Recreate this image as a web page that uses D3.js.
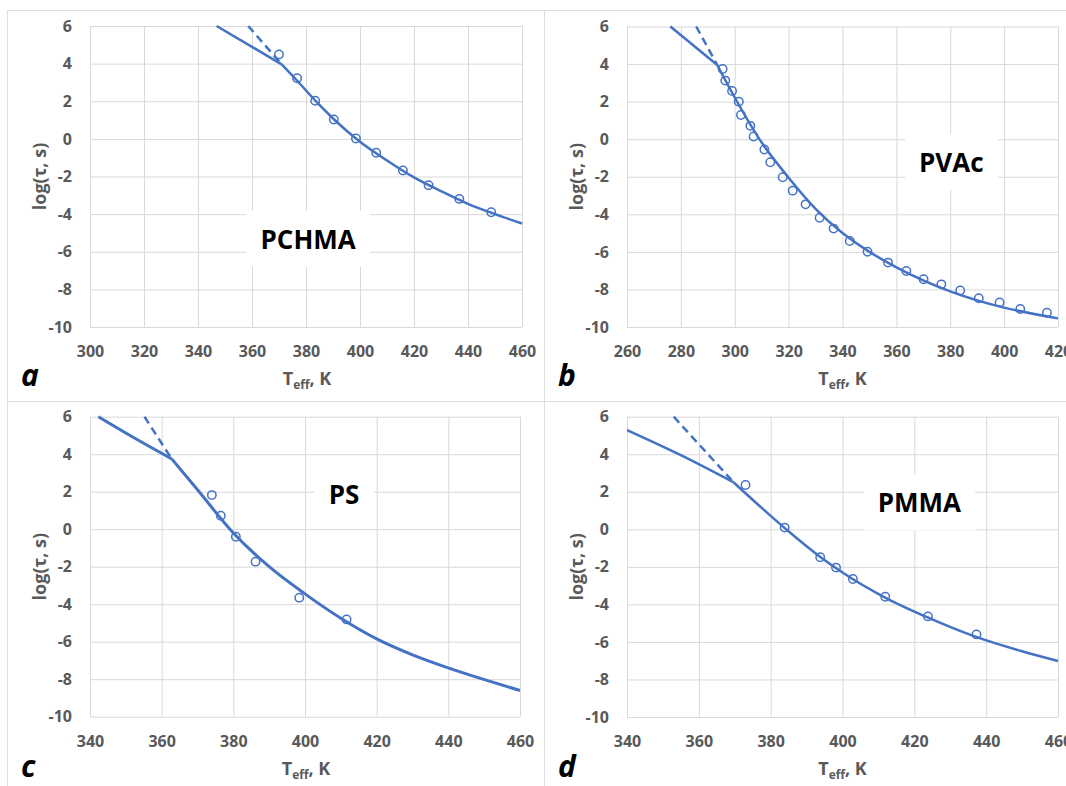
<!doctype html>
<html lang="en">
<head>
<meta charset="utf-8">
<title>log tau vs Teff</title>
<script src="https://cdn.jsdelivr.net/npm/d3@7"></script>
<style>
  body { margin: 0; background: #fff; }
  text { font-family: "Open Sans", "Noto Sans", sans-serif; }
</style>
</head>
<body>
<script>
// ---- data ----
var yTicks = [-10, -8, -6, -4, -2, 0, 2, 4, 6];

// a: PCHMA
var pchmaTicks = [300, 320, 340, 360, 380, 400, 420, 440, 460];
var pchmaT   = [370.0, 376.7, 383.4, 390.3, 398.5, 406.0, 415.9, 425.4, 436.8, 448.6];
var pchmaLog = [4.49, 3.22, 2.03, 1.03, 0.02, -0.74, -1.68, -2.46, -3.19, -3.90];
var pchmaFitT   = [371, 377, 384, 391, 400, 410, 420, 430, 440, 450, 460];
var pchmaFitLog = [3.96, 3.05, 1.95, 0.95, -0.15, -1.15, -2.05, -2.78, -3.45, -4.0, -4.5];
var pchmaGlassT = [346.9, 371],   pchmaGlassLog = [6.0, 3.96];
var pchmaDashT  = [358.6, 371],   pchmaDashLog  = [6.0, 3.96];

// b: PVAc
var pvacTicks = [260, 280, 300, 320, 340, 360, 380, 400, 420];
var pvacT   = [295.5, 296.5, 299.0, 301.5, 302.3, 305.8, 307.0, 311.0, 313.2, 317.8, 321.5, 326.3, 331.5,
               336.7, 342.7, 349.3, 356.9, 363.7, 370.1, 376.7, 383.7, 390.6, 398.3, 406.0, 415.9];
var pvacLog = [3.74, 3.12, 2.57, 2.0, 1.29, 0.71, 0.14, -0.55, -1.23, -2.03, -2.74, -3.47, -4.18,
               -4.76, -5.42, -5.99, -6.57, -7.02, -7.46, -7.73, -8.06, -8.47, -8.69, -9.04, -9.24];
var pvacFitT   = [293.5, 300, 310, 320, 330, 340, 350, 360, 380, 400, 420];
var pvacFitLog = [3.95, 2.22, -0.18, -2.05, -3.71, -5.0, -6.0, -6.82, -8.1, -8.97, -9.54];
var pvacGlassT = [276.1, 293.5],  pvacGlassLog = [6.0, 3.95];
var pvacDashT  = [285.7, 293.5],  pvacDashLog  = [6.0, 3.95];

// c: PS
var psTicks = [340, 360, 380, 400, 420, 440, 460];
var psT   = [374.0, 376.5, 380.7, 386.2, 398.4, 411.6];
var psLog = [1.82, 0.72, -0.40, -1.73, -3.65, -4.81];
var psFitT   = [362.8, 370, 380, 390, 400, 410, 420, 430, 440, 460];
var psFitLog = [3.75, 2.1, -0.2, -2.0, -3.45, -4.75, -5.85, -6.7, -7.4, -8.6];
var psGlassT = [342.3, 350.7, 362.8], psGlassLog = [6.0, 5.05, 3.75];
var psDashT  = [355.2, 362.8],        psDashLog  = [6.0, 3.75];

// d: PMMA
var pmmaTicks = [340, 360, 380, 400, 420, 440, 460];
var pmmaT   = [373.0, 383.9, 393.8, 398.2, 402.9, 411.9, 423.8, 437.3];
var pmmaLog = [2.36, 0.09, -1.49, -2.04, -2.65, -3.59, -4.64, -5.6];
var pmmaFitT   = [369.7, 384, 394, 400, 412, 424, 437, 450, 460];
var pmmaFitLog = [2.5, 0.05, -1.5, -2.3, -3.65, -4.72, -5.72, -6.5, -7.02];
var pmmaGlassT = [340, 355, 369.7], pmmaGlassLog = [5.29, 3.95, 2.5];
var pmmaDashT  = [353.0, 369.7],    pmmaDashLog  = [6.0, 2.5];

var zip = (xs, ys) => xs.map((x, i) => [x, ys[i]]);

// ---- layout ----
var W = 1066, H = 786;
var blue = "#4472c4", grid = "#d9d9d9", grey = "#595959";

var panels = [
  {letter: "a", name: "PCHMA", nameAt: [380.8, -5.83], frame: [7, 10, 537, 391], lw: 2.5,
   plot: {left: 90, top: 26, width: 432, height: 301},
   ticks: pchmaTicks, pts: zip(pchmaT, pchmaLog), fit: zip(pchmaFitT, pchmaFitLog),
   glass: zip(pchmaGlassT, pchmaGlassLog), dash: zip(pchmaDashT, pchmaDashLog)},
  {letter: "b", name: "PVAc", nameAt: [380.4, -1.76], frame: [544, 10, 530, 391], lw: 2.5,
   plot: {left: 627, top: 26.5, width: 431, height: 300.5},
   ticks: pvacTicks, pts: zip(pvacT, pvacLog), fit: zip(pvacFitT, pvacFitLog),
   glass: zip(pvacGlassT, pvacGlassLog), dash: zip(pvacDashT, pvacDashLog)},
  {letter: "c", name: "PS", nameAt: [410.9, 1.33], frame: [7, 401, 537, 390], lw: 3,
   plot: {left: 90, top: 416.7, width: 430, height: 300},
   ticks: psTicks, pts: zip(psT, psLog), fit: zip(psFitT, psFitLog),
   glass: zip(psGlassT, psGlassLog), dash: zip(psDashT, psDashLog)},
  {letter: "d", name: "PMMA", nameAt: [421.4, 0.91], frame: [544, 401, 530, 390], lw: 2.5,
   plot: {left: 627, top: 416.7, width: 431, height: 300.3},
   ticks: pmmaTicks, pts: zip(pmmaT, pmmaLog), fit: zip(pmmaFitT, pmmaFitLog),
   glass: zip(pmmaGlassT, pmmaGlassLog), dash: zip(pmmaDashT, pmmaDashLog)}
];

var svg = d3.select("body").append("svg")
            .attr("width", W)
            .attr("height", H)
            .style("display", "block");

svg.append("rect").attr("width", W).attr("height", H).attr("fill", "#fff");

panels.forEach(function(p, i) {
  var pl = p.plot;
  var xScale = d3.scaleLinear()
                 .domain([p.ticks[0], p.ticks[p.ticks.length - 1]])
                 .range([pl.left, pl.left + pl.width]);
  var yScale = d3.scaleLinear()
                 .domain([-10, 6])
                 .range([pl.top + pl.height, pl.top]);

  // frame around each panel
  svg.append("rect")
     .attr("x", p.frame[0] + 0.5).attr("y", p.frame[1] + 0.5)
     .attr("width", p.frame[2]).attr("height", p.frame[3])
     .attr("fill", "none").attr("stroke", "#dedede").attr("stroke-width", 1);

  var g = svg.append("g");

  // gridlines + tick labels
  var yAxis = d3.axisLeft(yScale)
                .tickValues(yTicks)
                .tickSize(-pl.width)
                .tickPadding(18)
                .tickFormat(d => String(d));
  var xAxis = d3.axisBottom(xScale)
                .tickValues(p.ticks)
                .tickSize(-pl.height)
                .tickPadding(19)
                .tickFormat(d => String(d));

  [g.append("g").attr("transform", "translate(" + pl.left + ",0)").call(yAxis),
   g.append("g").attr("transform", "translate(0," + (pl.top + pl.height) + ")").call(xAxis)]
    .forEach(function(ax) {
      ax.select(".domain").remove();
      ax.selectAll("line").attr("stroke", grid).attr("stroke-width", 1);
      ax.selectAll("text")
        .attr("fill", grey)
        .attr("font-size", 16)
        .attr("font-weight", 700)
        .style("font-family", '"Open Sans", sans-serif');
    });

  // polymer name with white box behind it
  var box = g.append("rect").attr("fill", "#fff");
  var name = g.append("text")
              .attr("x", xScale(p.nameAt[0]))
              .attr("y", yScale(p.nameAt[1]))
              .attr("text-anchor", "middle")
              .attr("font-size", 26)
              .attr("font-weight", 700)
              .attr("fill", "#000")
              .text(p.name);
  var bb = name.node().getBBox();
  box.attr("x", bb.x - 14).attr("y", bb.y - 10)
     .attr("width", bb.width + 28).attr("height", bb.height + 20);

  // clip lines to plot area
  var clipId = "clip" + i;
  svg.append("clipPath").attr("id", clipId)
     .append("rect")
     .attr("x", pl.left).attr("y", pl.top - 2)
     .attr("width", pl.width + 2).attr("height", pl.height + 2);

  var lineLin = d3.line().x(d => xScale(d[0])).y(d => yScale(d[1]));
  var lineSmooth = d3.line().x(d => xScale(d[0])).y(d => yScale(d[1])).curve(d3.curveMonotoneX);

  var lines = g.append("g").attr("clip-path", "url(#" + clipId + ")");

  lines.append("path").datum(p.dash)
       .attr("d", lineLin)
       .attr("fill", "none").attr("stroke", blue)
       .attr("stroke-width", 2.5).attr("stroke-dasharray", "8,5");

  lines.append("path").datum(p.glass)
       .attr("d", lineSmooth)
       .attr("fill", "none").attr("stroke", blue)
       .attr("stroke-width", p.lw).attr("stroke-linejoin", "round");

  lines.append("path").datum(p.fit)
       .attr("d", lineSmooth)
       .attr("fill", "none").attr("stroke", blue)
       .attr("stroke-width", p.lw).attr("stroke-linejoin", "round");

  g.selectAll("circle.pt")
   .data(p.pts)
   .enter()
   .append("circle")
   .attr("class", "pt")
   .attr("cx", d => xScale(d[0]))
   .attr("cy", d => yScale(d[1]))
   .attr("r", 4.2)
   .attr("fill", "none")
   .attr("stroke", blue)
   .attr("stroke-width", 1.5);

  // axis titles
  g.append("text")
   .attr("transform", "translate(" + (pl.left - 51) + "," + (pl.top + pl.height / 2) + ") rotate(-90)")
   .attr("text-anchor", "middle")
   .attr("dominant-baseline", "central")
   .attr("font-size", 18)
   .attr("font-weight", 700)
   .attr("fill", grey)
   .text("log(τ, s)");

  var xt = g.append("text")
            .attr("x", pl.left + pl.width / 2 + (i % 2 ? 0 : 1))
            .attr("y", pl.top + pl.height + 58)
            .attr("text-anchor", "middle")
            .attr("font-size", 18)
            .attr("font-weight", 700)
            .attr("fill", grey);
  xt.append("tspan").text("T");
  xt.append("tspan").attr("font-size", 12).attr("dy", 4).text("eff");
  xt.append("tspan").attr("dy", -4).text(", K");

  // panel letter
  svg.append("text")
     .attr("x", p.frame[0] + 14)
     .attr("y", p.frame[1] + 376)
     .attr("font-size", 30)
     .attr("font-weight", 700)
     .attr("font-style", "italic")
     .attr("fill", "#000")
     .text(p.letter);
});
</script>
</body>
</html>
